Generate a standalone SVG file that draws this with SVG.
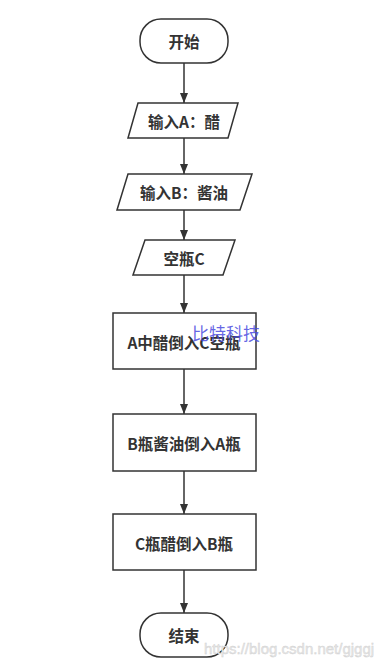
<svg xmlns="http://www.w3.org/2000/svg" width="391" height="667" viewBox="0 0 391 667">
<defs>
<marker id="ah" viewBox="0 0 10 10" refX="10" refY="5" markerWidth="10" markerHeight="10" markerUnits="userSpaceOnUse" orient="auto">
<path d="M0,1 L10,5 L0,9 Z" fill="#333"/>
</marker>
<style>
.s{fill:#fff;stroke:#333;stroke-width:1.5}
.t{font-family:"Noto Sans CJK SC","Liberation Sans",sans-serif;font-size:15.5px;font-weight:bold;fill:#333;text-anchor:middle;dominant-baseline:central}
.c{stroke:#333;stroke-width:1.5;fill:none;marker-end:url(#ah)}
</style>
</defs>
<rect width="391" height="667" fill="#fff"/>
<g id="connectors">
<line class="c" x1="184" y1="63" x2="184" y2="103"/>
<line class="c" x1="184" y1="138" x2="184" y2="174"/>
<line class="c" x1="184" y1="210" x2="184" y2="240"/>
<line class="c" x1="184" y1="275" x2="184" y2="313"/>
<line class="c" x1="184" y1="369" x2="184" y2="414"/>
<line class="c" x1="184" y1="471" x2="184" y2="514"/>
<line class="c" x1="184" y1="570" x2="184" y2="613"/>
</g>
<g id="start">
<rect class="s" x="140" y="19" width="88" height="44" rx="21"/>
<text class="t" x="184" y="41">开始</text>
</g>
<g id="inputA">
<polygon class="s" points="138,103 238,103 228,138 128,138"/>
<text class="t" x="184" y="121">输入A：醋</text>
</g>
<g id="inputB">
<polygon class="s" points="128,174 252,174 240,210 117,210"/>
<text class="t" x="184" y="192">输入B：酱油</text>
</g>
<g id="emptyC">
<polygon class="s" points="145,240 235,240 223,275 133,275"/>
<text class="t" x="184" y="258">空瓶C</text>
</g>
<g id="step1">
<rect class="s" x="113" y="313" width="143" height="56"/>
<text class="t" x="184" y="342">A中醋倒入C空瓶</text>
</g>
<g id="step2">
<rect class="s" x="113" y="414" width="143" height="57"/>
<text class="t" x="184" y="443">B瓶酱油倒入A瓶</text>
</g>
<g id="step3">
<rect class="s" x="113" y="514" width="143" height="56"/>
<text class="t" x="184" y="543">C瓶醋倒入B瓶</text>
</g>
<g id="end">
<rect class="s" x="140" y="613" width="88" height="44" rx="21"/>
<text class="t" x="184" y="635">结束</text>
</g>
<text x="192" y="340" font-family="'Noto Sans CJK SC',serif" font-size="17" fill="#4a4ae0" fill-opacity="0.85">比特科技</text>
<text x="204" y="654" font-family="'Liberation Sans',sans-serif" font-size="15" fill="#e8e8e8" stroke="#d0d0d0" stroke-width="0.4">https://blog.csdn.net/gjggj</text>
</svg>
